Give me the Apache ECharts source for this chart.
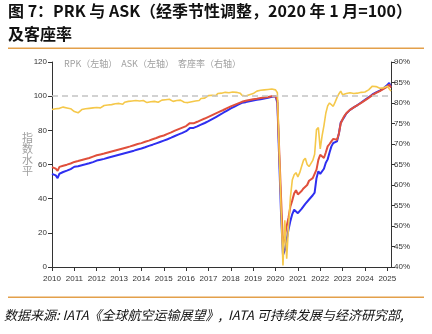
<!DOCTYPE html>
<html><head><meta charset="utf-8">
<script src="https://cdn.jsdelivr.net/npm/echarts@6/dist/echarts.min.js"></script>
<style>html,body{margin:0;padding:0;background:#fff}#c{width:432px;height:334px}</style>
</head><body><div id="c"></div>
<script>
// Monthly data, Jan 2010 – Mar 2025
var startYear = 2010, monthCount = 183;
var leftTicks = [0, 20, 40, 60, 80, 100, 120];
var rightTicks = ['40%','45%','50%','55%','60%','65%','70%','75%','80%','85%','90%'];
var seriesNames = ['RPK（左轴）', 'ASK（左轴）', '客座率（右轴）'];
var rpk = [].concat(
 [54.5,54.3,53.6,52.0,54.6,55.2,55.6,56.0,56.4,56.9,57.3,57.8],
 [58.7,58.9,59.0,59.3,59.6,59.8,60.1,60.4,60.7,61.0,61.4,61.8],
 [62.3,62.5,62.8,63.1,63.3,63.6,63.9,64.2,64.5,64.8,65.1,65.4],
 [65.7,66.0,66.3,66.6,66.9,67.2,67.5,67.8,68.1,68.4,68.8,69.1],
 [69.4,69.8,70.1,70.5,70.9,71.2,71.6,72.0,72.4,72.8,73.2,73.6],
 [74.0,74.4,74.8,75.3,75.7,76.2,76.7,77.1,77.6,78.1,78.5,79.0],
 [79.5,80.0,81.3,81.0,81.4,81.9,82.3,82.8,83.3,83.8,84.3,84.8],
 [85.4,86.0,86.6,87.2,87.8,88.4,89.0,89.6,90.3,90.9,91.5,92.1],
 [92.8,93.3,93.9,94.5,95.0,95.6,96.1,96.4,96.5,96.7,97.0,97.3],
 [97.5,97.7,97.9,98.0,98.2,98.4,98.6,98.8,99.0,99.3,99.6,100.0],
 [100,96,62,30,7,9.8,16,22,27,31,33.5,33],
 [31.5,32.5,34,35.5,37,38,39.5,40.2,42,43.5,52,56],
 [54.5,53.9,57.5,61,63,67,70.6,72.6,73,73.5,78,84.5],
 [86.2,88,89.8,90.8,92,92.8,93.4,94,94.8,95.6,96.3,97],
 [97.8,98.5,99.4,100.3,101,101.6,102.2,102.7,103.3,104,104.6,105.2],
 [106.5,107.8,105.5]
);
var ask = [].concat(
 [58.5,58.2,57.6,56.3,58.6,59.0,59.3,59.6,59.9,60.3,60.6,61.0],
 [61.5,61.7,62.0,62.3,62.6,62.8,63.2,63.5,63.8,64.2,64.6,65.0],
 [65.4,65.6,65.9,66.2,66.4,66.7,67.0,67.3,67.6,67.9,68.2,68.5],
 [68.8,69.1,69.4,69.7,70.0,70.3,70.6,71.0,71.3,71.6,72.0,72.2],
 [72.5,72.9,73.3,73.6,74.0,74.4,74.8,75.2,75.5,75.9,76.4,76.7],
 [77.0,77.5,77.9,78.4,78.8,79.3,79.8,80.2,80.7,81.2,81.6,82.1],
 [82.5,83.0,84.2,83.8,84.1,84.6,85.0,85.5,86.0,86.4,86.9,87.4],
 [87.9,88.4,88.9,89.4,89.9,90.4,90.9,91.4,91.9,92.5,93.0,93.5],
 [94.0,94.4,94.9,95.4,95.8,96.3,96.7,97.0,97.3,97.6,97.8,98.0],
 [98.2,98.4,98.5,98.7,98.9,99.0,99.2,99.3,99.5,99.7,99.9,100.3],
 [100,97.5,68,40,12.8,18,24,29,35.5,39,43,45],
 [42.5,43,44.5,46,46.5,48,50.5,51,52,53,57,62.7],
 [65.7,65,63.8,67,70.6,72,73.5,75,75.5,74.5,78,84],
 [86.5,88.5,90,91,92,92.8,93.4,94,94.7,95.5,96.1,96.8],
 [97.5,98.2,99,100,100.6,101.2,101.9,102.4,103,103.6,104.2,104.8],
 [105.6,106.8,105]
);
var loadFactor = [].concat(
 [78.4,78.2,78.6,78.3,78.7,78.5,79.0,79.2,78.8,79.1,78.6,78.3],
 [77.9,78.1,77.6,78.0,78.4,78.2,78.6,78.5,78.7,78.4,78.8,78.6],
 [78.9,79.1,78.8,79.2,79.4,79.1,79.5,79.3,79.6,79.4,79.8,79.6],
 [79.9,80.1,79.7,80.2,80.0,80.4,80.1,80.5,80.2,80.6,80.3,80.5],
 [80.2,80.6,80.4,80.1,80.5,80.3,80.7,80.4,80.6,80.2,80.5,80.7],
 [80.4,80.8,80.5,80.9,80.6,80.4,80.8,80.6,80.3,80.7,80.5,80.2],
 [80.4,80.1,80.5,80.3,80.7,80.5,80.9,80.6,81.1,81.4,81.2,81.6],
 [81.8,81.5,81.9,82.1,81.8,82.3,82.0,82.4,82.2,82.6,82.4,82.5],
 [82.3,82.7,82.5,82.6,82.2,82.4,81.9,82.1,81.7,81.6,82.0,81.8],
 [82.3,82.6,82.9,82.7,83.1,83.4,83.2,83.5,83.3,83.1,83.4,83.3],
 [83.2,82.5,68,54,40.4,51.4,42,50,57,61.2,62.5,63],
 [62,63,64.5,66,66.5,65,64.5,64.5,66,67.5,73.5,74],
 [68.8,72,74.5,77.5,79.3,80,79.6,79.2,80.2,81.3,82.2,82.9],
 [82,81.7,82.3,82.6,82.5,82.8,82.3,82.1,82.4,82.2,82.6,82.5],
 [82.7,82.6,83.2,83.5,84.1,83.8,84.0,83.7,83.6,83.9,83.7,84.0],
 [84.1,84.3,82.9]
);
var months = [];
for (var i = 0; i < monthCount; i++) {
  var y = startYear + Math.floor(i / 12), m = i % 12 + 1;
  months.push(y + '-' + (m < 10 ? '0' + m : m));
}
var isJan = function (idx, val) { return String(val).slice(5) === '01'; };
var axisFont = "'Liberation Sans',Arial,sans-serif";
var chart = echarts.init(document.getElementById('c'), null, {renderer: 'canvas'});
chart.setOption({
  backgroundColor: '#fff',
  animation: false,
  grid: {left: 52, right: 41, top: 62, bottom: 67},
  legend: {
    data: seriesNames, left: 57, top: 54, itemWidth: 0, itemHeight: 0, itemGap: 2,
    textStyle: {color: '#a0a0a0', fontSize: 9, fontFamily: "'Noto Sans CJK SC',sans-serif", padding: [0,0,0,-4]}
  },
  xAxis: {
    type: 'category', data: months, boundaryGap: false,
    axisLine: {lineStyle: {color: '#333', width: 1}},
    axisTick: {interval: isJan, length: 4, lineStyle: {color: '#333'}},
    axisLabel: {interval: isJan, formatter: function (v) { return v.slice(0, 4); },
      color: '#333', fontSize: 8, fontFamily: axisFont, margin: 8},
    splitLine: {show: false}
  },
  yAxis: [{
    type: 'value', min: leftTicks[0], max: leftTicks[leftTicks.length - 1], interval: 20,
    axisLine: {show: true, lineStyle: {color: '#333'}},
    axisTick: {show: true, length: 4, lineStyle: {color: '#333'}},
    axisLabel: {color: '#333', fontSize: 8, fontFamily: axisFont, margin: 5},
    splitLine: {show: false}
  }, {
    type: 'value', min: 40, max: 90, interval: 5, position: 'right',
    axisLine: {show: true, lineStyle: {color: '#333'}},
    axisTick: {show: true, length: 4, lineStyle: {color: '#333'}},
    axisLabel: {formatter: '{value}%', color: '#333', fontSize: 8, fontFamily: axisFont, margin: 3},
    splitLine: {show: false}
  }],
  series: [{
    name: seriesNames[0], type: 'line', data: rpk, yAxisIndex: 0, showSymbol: false,
    lineStyle: {color: '#2f2ff0', width: 2}, itemStyle: {color: '#2f2ff0'},
    markLine: {silent: true, symbol: 'none', label: {show: false},
      lineStyle: {color: '#c4c4c4', type: [6, 4], width: 1.5}, data: [{yAxis: 100}]}
  }, {
    name: seriesNames[1], type: 'line', data: ask, yAxisIndex: 0, showSymbol: false,
    lineStyle: {color: '#e0503c', width: 2}, itemStyle: {color: '#e0503c'}
  }, {
    name: seriesNames[2], type: 'line', data: loadFactor, yAxisIndex: 1, showSymbol: false,
    lineStyle: {color: '#f5c84a', width: 1.6}, itemStyle: {color: '#f5c84a'}
  }],
  graphic: [
    {type: 'text', left: 8, top: 3, style: {text: '图 7：PRK 与 ASK（经季节性调整，2020 年 1 月=100）',
      font: "bold 16px 'Noto Sans CJK SC', sans-serif", fill: '#111'}},
    {type: 'text', left: 8, top: 26, style: {text: '及客座率',
      font: "bold 16px 'Noto Sans CJK SC', sans-serif", fill: '#111'}},
    {type: 'rect', shape: {x: 8, y: 47.5, width: 416, height: 1.5}, style: {fill: '#e3a04a'}},
    {type: 'rect', shape: {x: 8, y: 296.5, width: 416, height: 1.5}, style: {fill: '#e3a04a'}},
    {type: 'text', left: 4, top: 309, style: {text: '数据来源: IATA《全球航空运输展望》,  IATA 可持续发展与经济研究部,',
      font: "italic 13px 'Noto Sans CJK SC', sans-serif", fill: '#111'}},
    {type: 'text', left: 22, top: 132, style: {text: '指\n数\n水\n平',
      font: "11px 'Noto Sans CJK SC', sans-serif", fill: '#a0a0a0', lineHeight: 11}}
  ]
});
</script></body></html>
